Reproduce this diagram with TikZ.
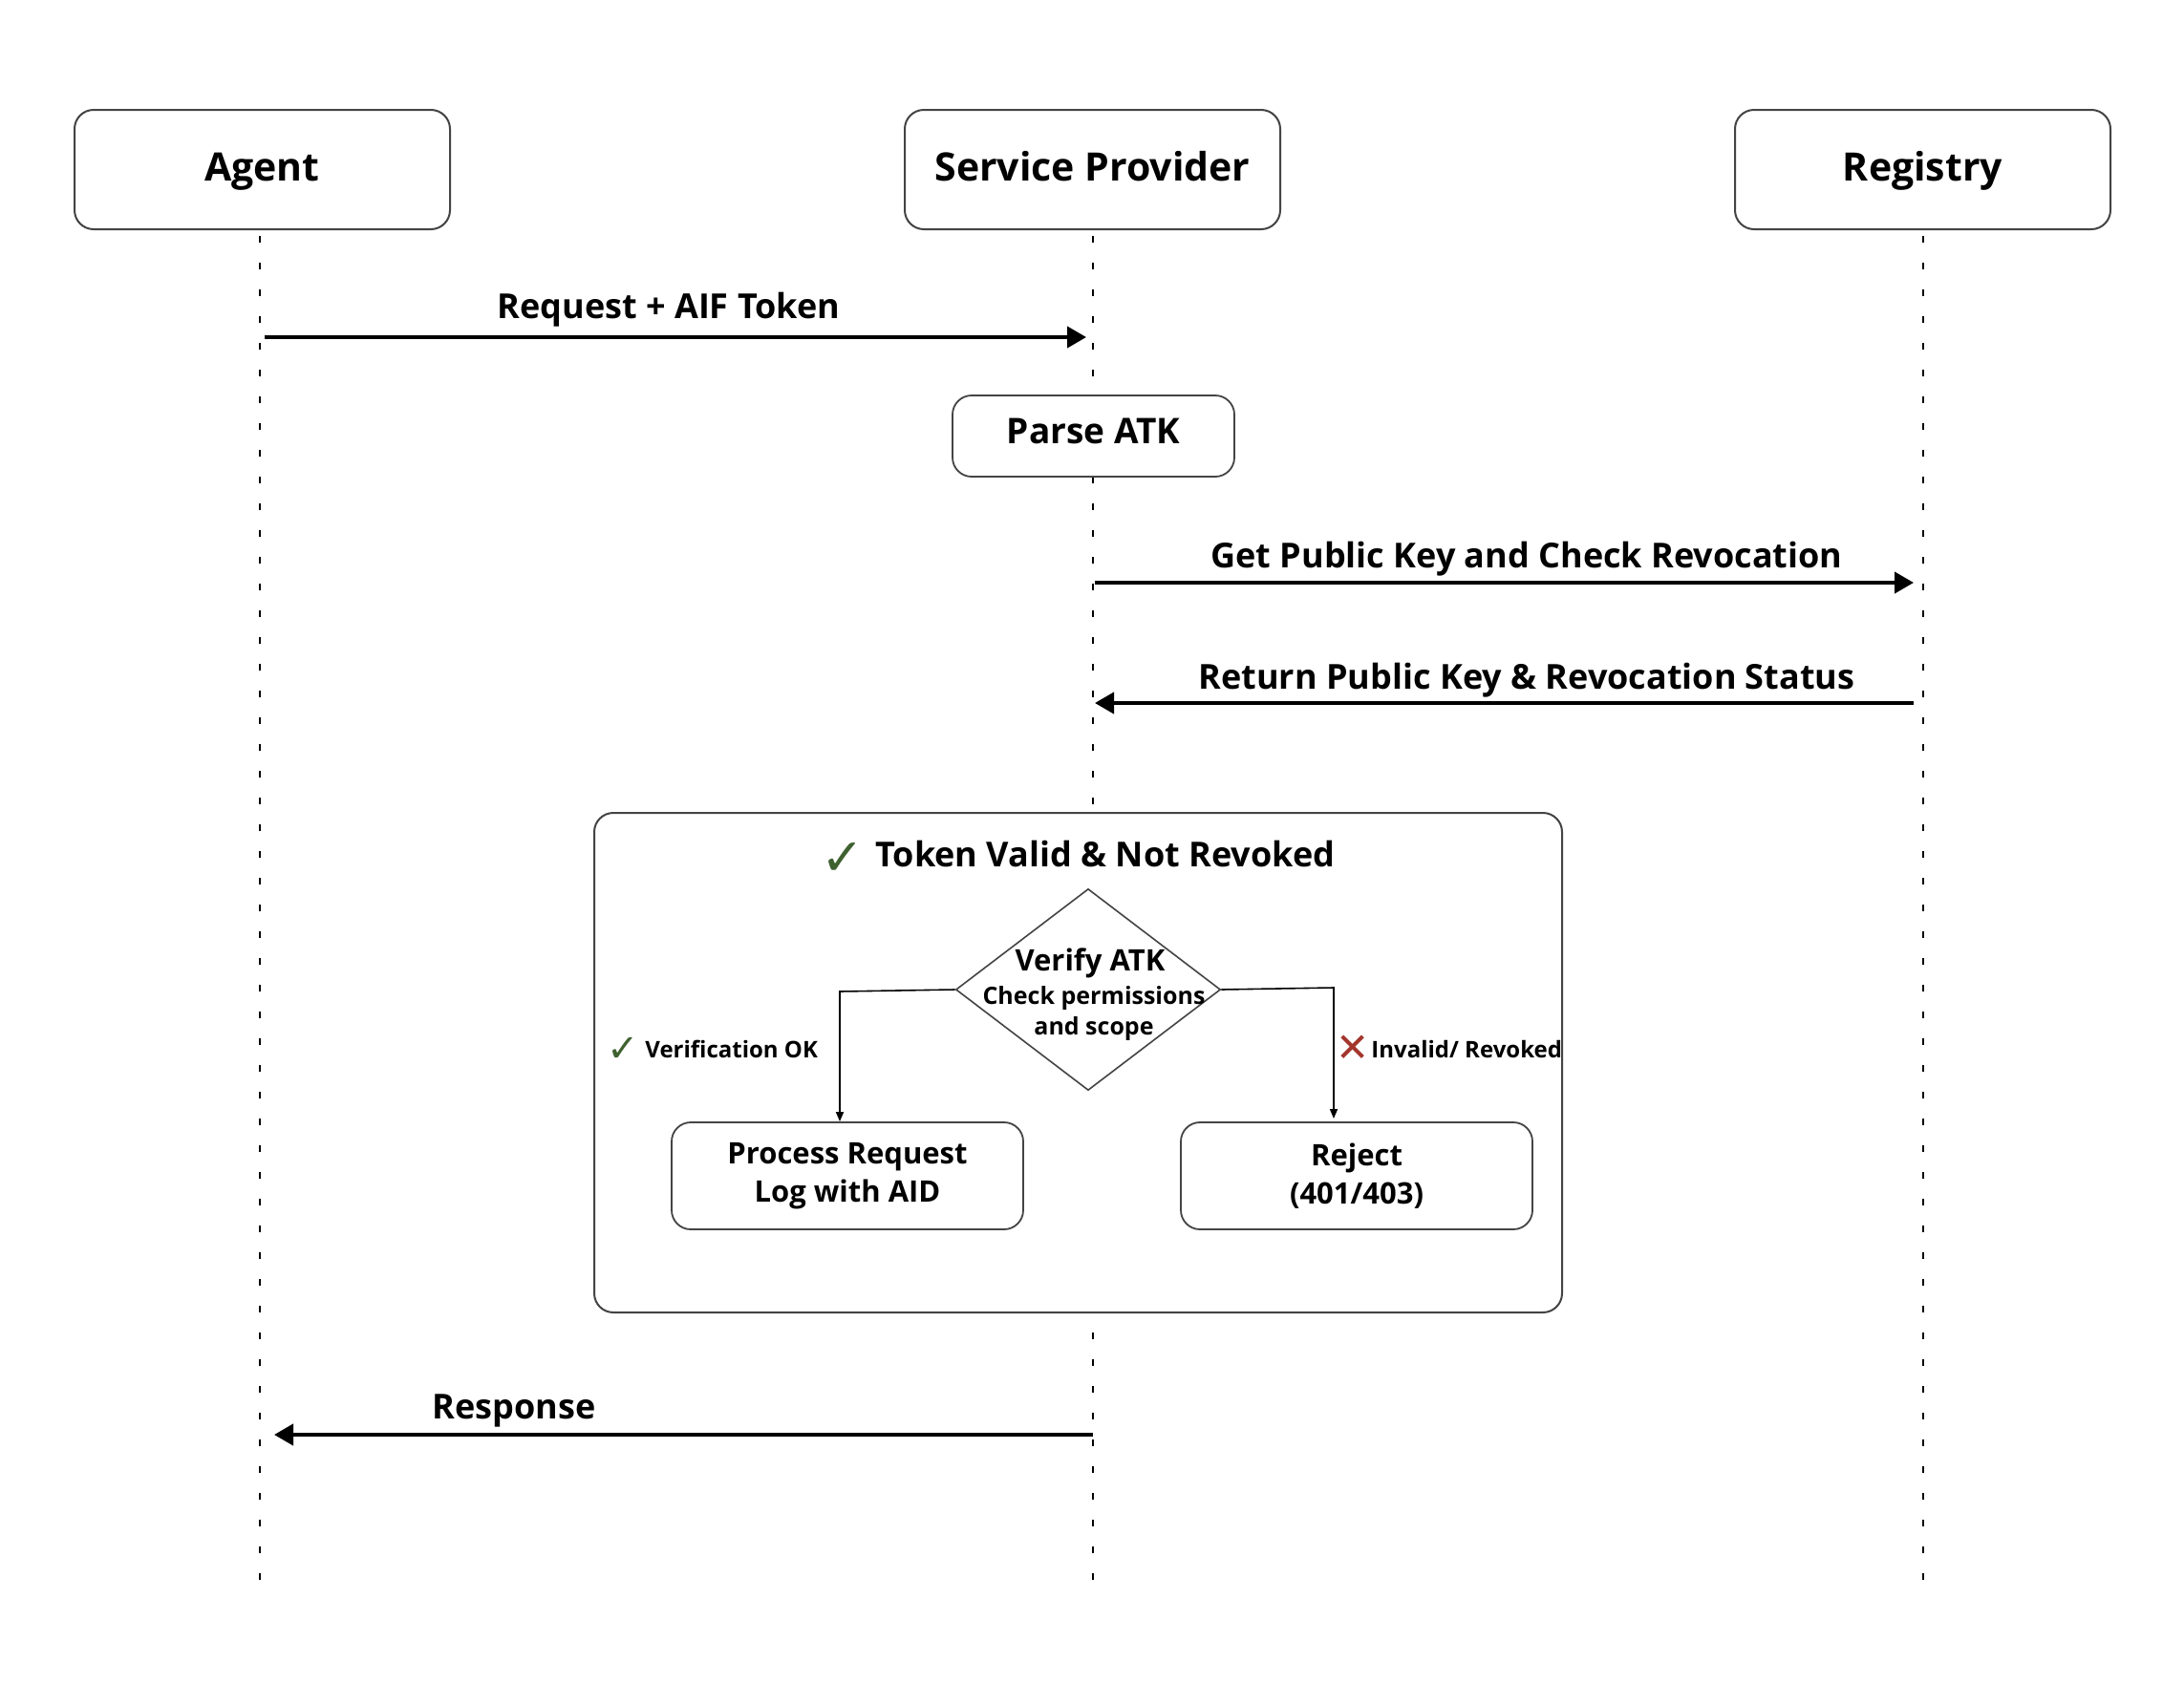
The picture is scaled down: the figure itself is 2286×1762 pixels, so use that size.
\documentclass[tikz,border=0pt]{standalone}
\usepackage{fontspec}
\setmainfont{Open Sans}
\newfontfamily\symfont{DejaVu Sans}
\usetikzlibrary{shapes.geometric,arrows.meta}
\definecolor{boxline}{HTML}{444444}
\definecolor{okgreen}{HTML}{3F6130}
\definecolor{badred}{HTML}{A3362C}
\begin{document}
\begin{tikzpicture}[x=0.5pt,y=-0.5pt,
  txt/.style={text height=0.85em, text depth=0.05em},
  actor/.style={draw=boxline, fill=white, line width=1pt, rounded corners=10pt, minimum width=196.5pt, minimum height=62.5pt, inner sep=0pt, text height=1.24em, text depth=0em, font=\fontsize{20.5}{24}\selectfont\bfseries},
  lifeline/.style={line width=1pt, dash pattern=on 3.5pt off 10.5pt},
  msg/.style={line width=2pt, -{Triangle[length=10pt,width=11pt]}},
  msglabel/.style={inner sep=0pt, txt, font=\fontsize{18}{22}\selectfont\bfseries},
  procbox/.style={draw=boxline, fill=white, line width=0.9pt, rounded corners=10pt, inner sep=0pt, align=center},
  conn/.style={line width=0.8pt, -{Triangle[length=5pt,width=4pt]}},
  small/.style={inner sep=0pt, txt, font=\fontsize{12.5}{15}\selectfont\bfseries},
]
\useasboundingbox (0,0) rectangle (2286,1762);

% lifelines
\coordinate (aTop) at (272,247);
\coordinate (aBot) at (272,1672);
\coordinate (sTop) at (1144,247);
\coordinate (sBot) at (1144,1664);
\coordinate (rTop) at (2013,247);
\coordinate (rBot) at (2013,1664);
\draw[lifeline] (aTop) -- (aBot);
\draw[lifeline] (sTop) -- (sBot);
\draw[lifeline] (rTop) -- (rBot);

% actors
\node[actor] (agent) at (274.5,177.5) {Agent};
\node[actor] (sp) at (1143.5,177.5) {Service Provider};
\node[actor] (reg) at (2012.5,177.5) {Registry};

% request
\coordinate (reqS) at (277,353);
\coordinate (reqE) at (1137,353);
\draw[msg] (reqS) -- (reqE);
\node[msglabel] (reqL) at (700,325) {Request + AIF Token};

% parse
\node[procbox, minimum width=147.5pt, minimum height=42.5pt, txt, font=\fontsize{18.5}{22}\selectfont\bfseries] (parse) at (1144.5,456.5) {Parse ATK};

% get key
\coordinate (getS) at (1146,610);
\coordinate (getE) at (2003,610);
\draw[msg] (getS) -- (getE);
\node[msglabel] (getL) at (1598,586) {Get Public Key and Check Revocation};

% return
\coordinate (retS) at (2003,736);
\coordinate (retE) at (1146,736);
\draw[msg] (retS) -- (retE);
\node[msglabel] (retL) at (1598,713) {Return Public Key \& Revocation Status};

% frame
\draw[draw=boxline, line width=1pt, rounded corners=10pt, fill=white] (622,851) rectangle (1635,1374);
\node[inner sep=0pt, text=okgreen, font=\symfont\fontsize{27}{30}\selectfont] (tick) at (882,899) {✓};
\node[msglabel, anchor=west] (title) at (916,899) {Token Valid \& Not Revoked};

% diamond
\node[diamond, draw=boxline, line width=0.8pt, minimum width=138.5pt, minimum height=105.5pt, inner sep=0pt] (dia) at (1139,1036) {};
\node[inner sep=0pt, txt, font=\fontsize{15.5}{18}\selectfont\bfseries] (diaT) at (1141,1008) {Verify ATK};
\node[small] (diaA) at (1145,1043) {Check permissions};
\node[small] (diaB) at (1145,1075) {and scope};

% outcome boxes
\node[procbox, minimum width=184pt, minimum height=56pt, font=\fontsize{15.5}{20}\selectfont\bfseries] (proc) at (887,1231) {Process Request\\Log with AID};
\node[procbox, minimum width=184pt, minimum height=56pt, font=\fontsize{15.5}{20}\selectfont\bfseries] (rej) at (1420,1231) {Reject\\(401/403)};

% connectors
\coordinate (lbend) at (879,1038);
\coordinate (rbend) at (1396,1034);
\coordinate (rend) at (1396,1171);
\draw[conn] (dia.west) -- (lbend) -- (lbend |- proc.north);
\draw[conn] (dia.east) -- (rbend) -- (rend);

\node[inner sep=0pt, text=okgreen, font=\symfont\fontsize{20}{22}\selectfont] (tick2) at (652,1099) {✓};
\node[small, anchor=west, font=\fontsize{12}{15}\selectfont\bfseries] (okL) at (675,1099) {Verification OK};
\node[inner sep=0pt, text=badred, font=\symfont\fontsize{21}{22}\selectfont] (cross) at (1416,1098) {✕};
\node[small, anchor=west, font=\fontsize{12}{15}\selectfont\bfseries] (badL) at (1435,1099) {Invalid/ Revoked};

% response
\coordinate (resS) at (1144,1502);
\coordinate (resE) at (287,1502);
\draw[msg] (resS) -- (resE);
\node[msglabel] (resL) at (538,1477) {Response};
\end{tikzpicture}
\end{document}
